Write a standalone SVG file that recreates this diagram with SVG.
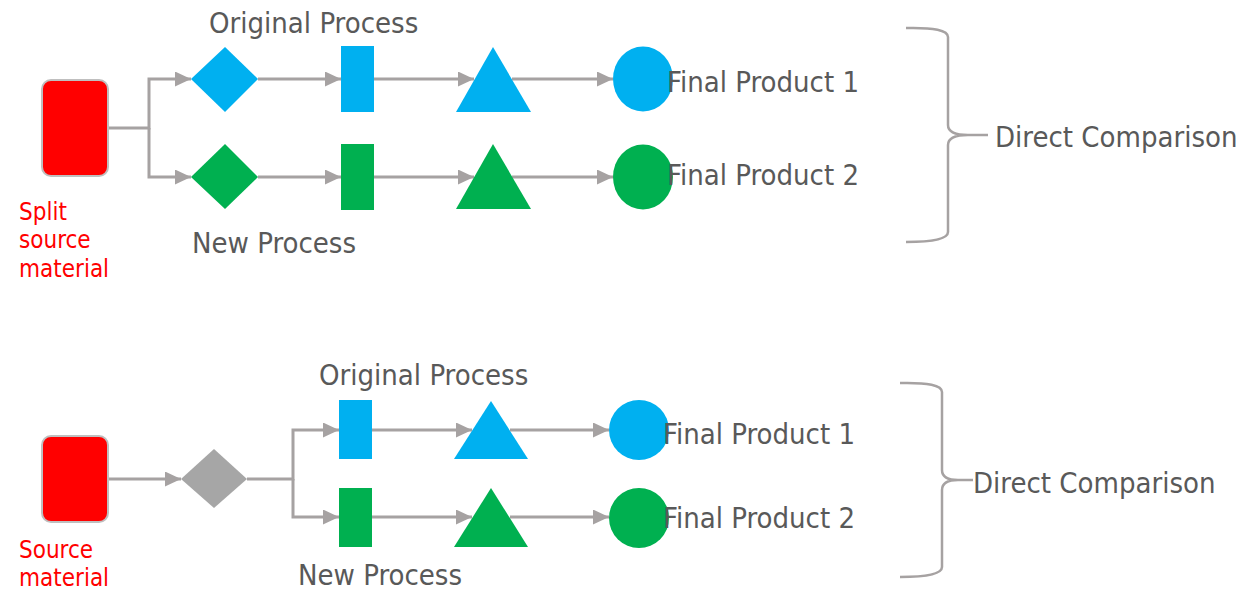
<svg xmlns="http://www.w3.org/2000/svg" width="1240" height="592" viewBox="0 0 1240 592">
<style>
.lbl{font-family:"DejaVu Sans Condensed","DejaVu Sans",sans-serif;font-size:29px;fill:#595959}
.red{font-family:"DejaVu Sans Condensed","DejaVu Sans",sans-serif;font-size:24px;fill:#FF0000}
.con{fill:none;stroke:#A6A2A2;stroke-width:3}
.brace{fill:none;stroke:#A6A2A2;stroke-width:2.5}
.src{fill:#FF0000;stroke:#BFBFBF;stroke-width:2}
.blue{fill:#00B0F0}
.green{fill:#00B050}
.grey{fill:#A6A6A6}
</style>
<defs>
<marker id="ah" markerUnits="userSpaceOnUse" markerWidth="17" markerHeight="16" refX="16" refY="7.5" orient="auto">
<path d="M0,0 L16,7.5 L0,15 z" fill="#A6A2A2"/>
</marker>
</defs>
<rect width="1240" height="592" fill="#FFFFFF"/>
<g id="connectors">
<path class="con" d="M108,128 H149 V79 H191" marker-end="url(#ah)"/>
<path class="con" d="M149,128 V177 H191" marker-end="url(#ah)"/>
<path class="con" d="M258,79 H341" marker-end="url(#ah)"/>
<path class="con" d="M258,177 H341" marker-end="url(#ah)"/>
<path class="con" d="M374,79 H474" marker-end="url(#ah)"/>
<path class="con" d="M374,177 H474" marker-end="url(#ah)"/>
<path class="con" d="M512,79 H613" marker-end="url(#ah)"/>
<path class="con" d="M512,177 H613" marker-end="url(#ah)"/>
<path class="con" d="M108,479 H181" marker-end="url(#ah)"/>
<path class="con" d="M247,479 H293 V430 H339" marker-end="url(#ah)"/>
<path class="con" d="M293,479 V517 H339" marker-end="url(#ah)"/>
<path class="con" d="M372,430 H472" marker-end="url(#ah)"/>
<path class="con" d="M372,517 H472" marker-end="url(#ah)"/>
<path class="con" d="M510,430 H609" marker-end="url(#ah)"/>
<path class="con" d="M510,517 H609" marker-end="url(#ah)"/>
<path class="brace" d="M906,28 Q948,27 948,37 L948,125 Q948,135 968,135 L988,135 M968,135 Q948,135 948,145 L948,232 Q948,242 906,242"/>
<path class="brace" d="M900,383 Q942,382 942,392 L942,470 Q942,480 958,480 L973,480 M958,480 Q942,480 942,490 L942,567 Q942,577 900,577"/>
</g>
<g id="top-source"><rect class="src" x="42" y="80" width="66" height="96" rx="9"/>
<text class="red" x="19" y="220">Split</text><text class="red" x="19" y="248">source</text><text class="red" x="19" y="277">material</text></g>
<g id="top-orig-diamond"><polygon class="blue" points="225,47 258,79 225,112 191,79"/></g>
<g id="top-new-diamond"><polygon class="green" points="225,144 258,177 225,209 191,177"/></g>
<g id="top-orig-rect"><rect class="blue" x="341" y="46" width="33" height="66"/></g>
<g id="top-new-rect"><rect class="green" x="341" y="144" width="33" height="66"/></g>
<g id="top-orig-tri"><polygon class="blue" points="493,47 531,112 456,112"/></g>
<g id="top-new-tri"><polygon class="green" points="493,144 531,209 456,209"/></g>
<g id="top-orig-circle"><ellipse class="blue" cx="643" cy="79" rx="30" ry="32.5"/></g>
<g id="top-new-circle"><ellipse class="green" cx="643" cy="177" rx="30" ry="32.5"/></g>
<g id="top-labels">
<text class="lbl" x="209" y="33">Original Process</text>
<text class="lbl" x="192" y="253">New Process</text>
<text class="lbl" x="667" y="92">Final Product 1</text>
<text class="lbl" x="667" y="185">Final Product 2</text>
<text class="lbl" x="995" y="147">Direct Comparison</text>
</g>
<g id="bottom-source"><rect class="src" x="42" y="436" width="66" height="86" rx="9"/>
<text class="red" x="19" y="558">Source</text><text class="red" x="19" y="586">material</text></g>
<g id="bottom-diamond"><polygon class="grey" points="214,449 247,479 214,508 181,479"/></g>
<g id="bottom-orig-rect"><rect class="blue" x="339" y="400" width="33" height="59"/></g>
<g id="bottom-new-rect"><rect class="green" x="339" y="488" width="33" height="59"/></g>
<g id="bottom-orig-tri"><polygon class="blue" points="491,401 528,459 454,459"/></g>
<g id="bottom-new-tri"><polygon class="green" points="491,488 528,547 454,547"/></g>
<g id="bottom-orig-circle"><circle class="blue" cx="639" cy="430" r="30"/></g>
<g id="bottom-new-circle"><circle class="green" cx="639" cy="518" r="30"/></g>
<g id="bottom-labels">
<text class="lbl" x="319" y="385">Original Process</text>
<text class="lbl" x="298" y="585">New Process</text>
<text class="lbl" x="663" y="444">Final Product 1</text>
<text class="lbl" x="663" y="528">Final Product 2</text>
<text class="lbl" x="973" y="493">Direct Comparison</text>
</g>
</svg>
